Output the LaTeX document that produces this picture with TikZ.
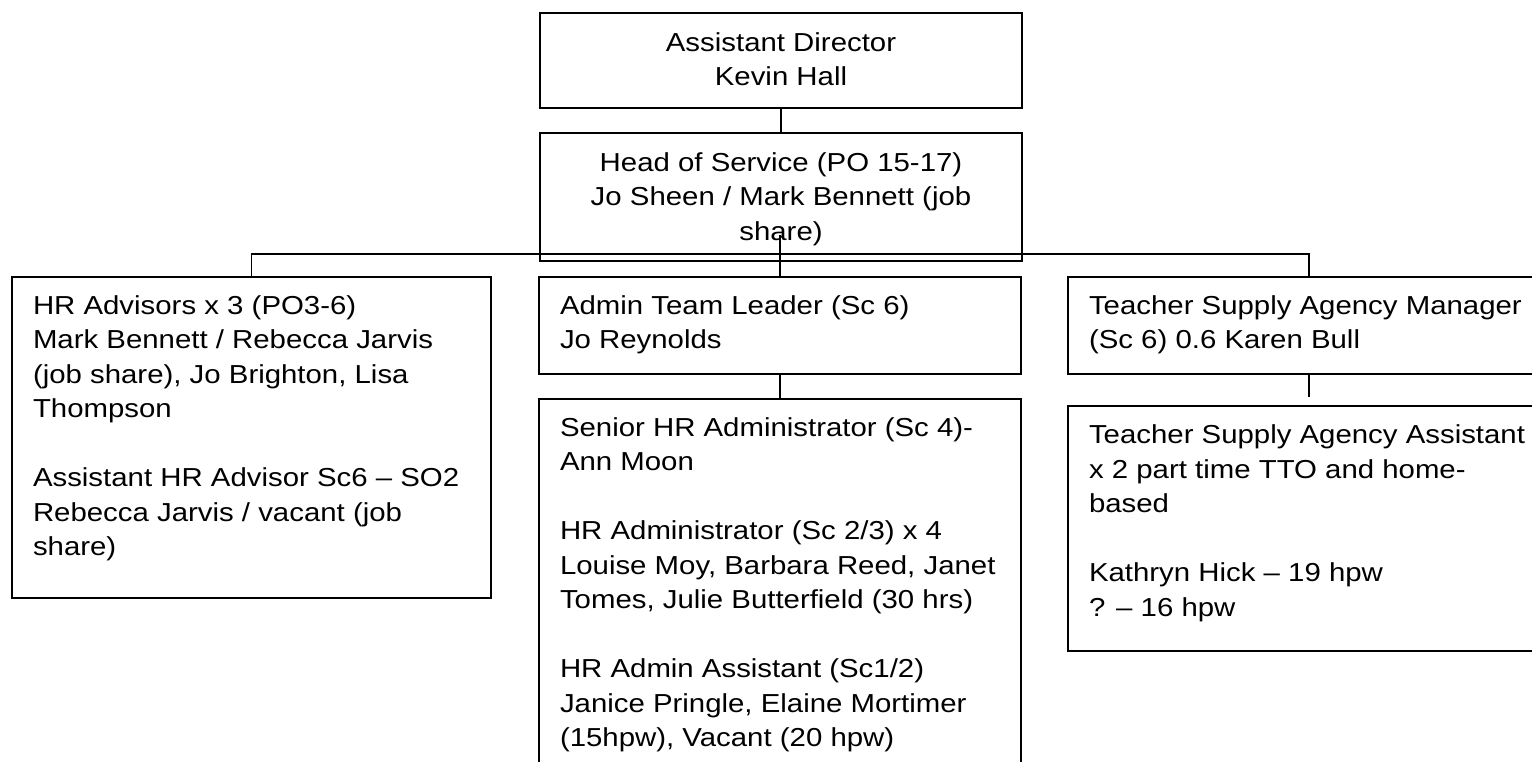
\documentclass[tikz,border=0pt]{standalone}
\usepackage{fontspec}
\setmainfont[FakeStretch=1.13]{Liberation Sans}
\usepackage{tikz}

% box body: [alignment]{height}{width}{top gap}{text}
\newcommand{\postbody}[5][\raggedright]{\parbox[c][#2][t]{#3}{\vspace*{#4}#1\strut #5}}

\begin{document}
\begin{tikzpicture}[x=1pt,y=-1pt,
    post/.style={draw,line width=2pt,anchor=north west,inner xsep=21pt,inner ysep=0pt,
      font=\fontsize{26}{34.5}\selectfont},
    link/.style={line width=1.3pt}]
  \useasboundingbox (0,0) rectangle (1532,761);

  \node[post] (ad) at (539,12) {\postbody[\centering]{95pt}{440pt}{14pt}{Assistant Director\\ Kevin Hall}};
  \node[post] (hos) at (539,132) {\postbody[\centering]{128pt}{440pt}{14pt}{Head of Service (PO 15-17)\\ Jo Sheen / Mark Bennett (job\\ share)}};

  \node[post] (hra) at (11,276) {\postbody{321pt}{437pt}{13pt}{HR Advisors x 3 (PO3-6)\\ Mark Bennett / Rebecca Jarvis\\ (job share), Jo Brighton, Lisa\\ Thompson\\[34.5pt] Assistant HR Advisor Sc6 – SO2\\ Rebecca Jarvis / vacant (job\\ share)}};
  \node[post] (adm) at (538,276) {\postbody{97pt}{440pt}{13pt}{Admin Team Leader (Sc 6)\\ Jo Reynolds}};
  \node[post] (tsm) at (1067,276) {\postbody{97pt}{440pt}{13pt}{Teacher Supply Agency Manager\\ (Sc 6) 0.6 Karen Bull}};

  \node[post] (sen) at (538,398) {\postbody{385pt}{440pt}{13pt}{Senior HR Administrator (Sc 4)-\\ Ann Moon\\[34.5pt] HR Administrator (Sc 2/3) x 4\\ Louise Moy, Barbara Reed, Janet\\ Tomes, Julie Butterfield (30 hrs)\\[34.5pt] HR Admin Assistant (Sc1/2)\\ Janice Pringle, Elaine Mortimer\\ (15hpw), Vacant (20 hpw)}};
  \node[post] (tsa) at (1067,405) {\postbody{245pt}{440pt}{13.5pt}{Teacher Supply Agency Assistant\\ x 2 part time TTO and home-\\ based\\[34.5pt] Kathryn Hick – 19 hpw\\ ? – 16 hpw}};

  % reporting lines
  \coordinate (bus) at ([yshift=8pt]hos.south);
  \coordinate (hosdrop) at ([yshift=27pt]adm.north |- hos.south);
  \coordinate (tsagap) at ([yshift=8pt]tsa.north);
  \draw[link] (ad.south) -- (hos.north);
  \draw[link] (hosdrop) -- (adm.north);
  \draw[link] (hra.north) |- (bus) -| (tsm.north);
  \draw[link] (adm.south) -- (sen.north);
  \draw[link] (tsm.south) -- (tsagap);
\end{tikzpicture}
\end{document}
